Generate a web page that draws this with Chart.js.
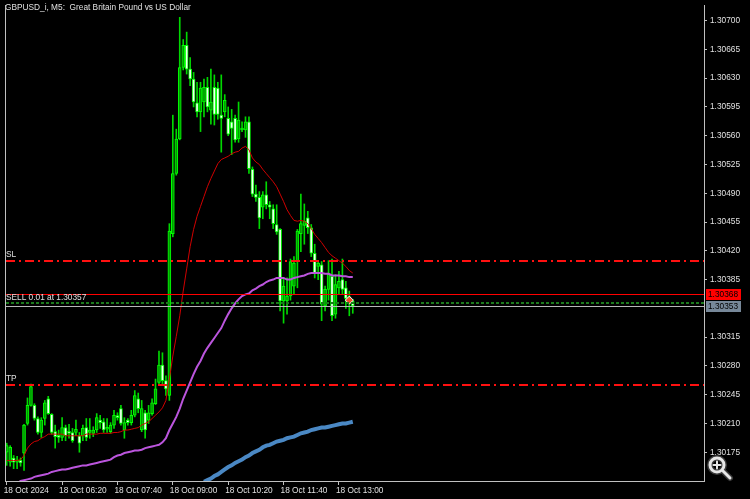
<!DOCTYPE html>
<html><head><meta charset="utf-8">
<script src="https://cdn.jsdelivr.net/npm/chart.js@4.4.1/dist/chart.umd.min.js"></script>
<style>html,body{margin:0;padding:0;background:#000;overflow:hidden}#wrap{width:750px;height:499px;position:relative}</style>
</head><body><div id="wrap"><canvas id="c"></canvas></div>
<script>
// ---- data (GBPUSD_i, M5, 18 Oct 2024 from 05:00) ----
const open = [
1.30175,1.30163,1.30168,1.30163,1.30165,1.30174,1.30210,1.30232,1.30232,1.30216,
1.30199,1.30216,1.30240,1.30221,1.30200,1.30195,1.30193,1.30205,1.30200,1.30199,
1.30199,1.30195,1.30195,1.30205,1.30199,1.30198,1.30202,1.30214,1.30212,1.30203,
1.30200,1.30208,1.30218,1.30228,1.30202,1.30214,1.30211,1.30220,1.30240,1.30202,
1.30223,1.30214,1.30222,1.30234,1.30260,1.30281,1.30262,1.30244,1.30441,1.30514,
1.30556,1.30643,1.30670,1.30641,1.30629,1.30600,1.30589,1.30601,1.30619,1.30591,
1.30619,1.30618,1.30585,1.30589,1.30581,1.30577,1.30581,1.30556,1.30567,1.30567,
1.30577,1.30519,1.30489,1.30485,1.30473,1.30488,1.30476,1.30471,1.30452,1.30446,
1.30359,1.30359,1.30365,1.30377,1.30407,1.30441,1.30451,1.30460,1.30448,1.30417,
1.30401,1.30403,1.30353,1.30373,1.30389,1.30343,1.30375,1.30385,1.30375,1.30364,
1.30359];
const high = [
1.30186,1.30183,1.30171,1.30170,1.30168,1.30209,1.30241,1.30258,1.30234,1.30218,
1.30217,1.30238,1.30243,1.30222,1.30208,1.30202,1.30217,1.30208,1.30209,1.30204,
1.30214,1.30199,1.30208,1.30216,1.30216,1.30206,1.30222,1.30220,1.30216,1.30216,
1.30211,1.30226,1.30223,1.30232,1.30217,1.30216,1.30226,1.30250,1.30247,1.30238,
1.30226,1.30232,1.30240,1.30264,1.30298,1.30296,1.30268,1.30453,1.30585,1.30568,
1.30704,1.30677,1.30686,1.30655,1.30637,1.30625,1.30625,1.30629,1.30631,1.30641,
1.30634,1.30625,1.30634,1.30610,1.30595,1.30592,1.30585,1.30601,1.30577,1.30583,
1.30583,1.30522,1.30500,1.30492,1.30492,1.30504,1.30480,1.30476,1.30476,1.30447,
1.30387,1.30387,1.30410,1.30413,1.30446,1.30489,1.30477,1.30468,1.30452,1.30428,
1.30408,1.30407,1.30377,1.30408,1.30410,1.30391,1.30395,1.30410,1.30383,1.30371,
1.30361];
const low = [
1.30159,1.30158,1.30155,1.30155,1.30158,1.30153,1.30208,1.30231,1.30214,1.30197,
1.30193,1.30208,1.30221,1.30197,1.30180,1.30187,1.30189,1.30189,1.30192,1.30187,
1.30195,1.30175,1.30189,1.30189,1.30192,1.30194,1.30199,1.30204,1.30199,1.30199,
1.30198,1.30204,1.30214,1.30208,1.30192,1.30208,1.30208,1.30218,1.30223,1.30200,
1.30192,1.30210,1.30220,1.30233,1.30256,1.30256,1.30244,1.30238,1.30437,1.30512,
1.30555,1.30640,1.30635,1.30621,1.30595,1.30583,1.30565,1.30583,1.30589,1.30574,
1.30573,1.30580,1.30540,1.30583,1.30560,1.30537,1.30552,1.30552,1.30565,1.30558,
1.30514,1.30486,1.30480,1.30447,1.30459,1.30471,1.30459,1.30447,1.30440,1.30347,
1.30332,1.30343,1.30360,1.30367,1.30375,1.30419,1.30428,1.30441,1.30413,1.30387,
1.30385,1.30335,1.30347,1.30360,1.30335,1.30338,1.30367,1.30367,1.30350,1.30341,
1.30344];
const close = [
1.30183,1.30181,1.30163,1.30165,1.30162,1.30208,1.30232,1.30255,1.30216,1.30199,
1.30214,1.30235,1.30222,1.30199,1.30194,1.30193,1.30205,1.30195,1.30198,1.30189,
1.30203,1.30186,1.30204,1.30193,1.30202,1.30202,1.30217,1.30211,1.30202,1.30204,
1.30208,1.30220,1.30217,1.30210,1.30211,1.30211,1.30220,1.30244,1.30228,1.30228,
1.30202,1.30223,1.30235,1.30252,1.30281,1.30262,1.30252,1.30444,1.30514,1.30556,
1.30643,1.30670,1.30641,1.30629,1.30601,1.30589,1.30618,1.30619,1.30595,1.30601,
1.30586,1.30586,1.30581,1.30603,1.30562,1.30569,1.30555,1.30579,1.30568,1.30577,
1.30520,1.30489,1.30485,1.30460,1.30488,1.30476,1.30473,1.30453,1.30443,1.30359,
1.30377,1.30365,1.30407,1.30405,1.30444,1.30453,1.30456,1.30448,1.30417,1.30393,
1.30405,1.30355,1.30373,1.30393,1.30341,1.30379,1.30383,1.30373,1.30362,1.30359,
1.30353];
const maFast = [
1.30165,1.30165,1.30165,1.30165,1.30166,1.30171,1.30180,1.30185,1.30188,1.30189,
1.30192,1.30194,1.30197,1.30197,1.30197,1.30197,1.30197,1.30195,1.30195,1.30195,
1.30195,1.30195,1.30195,1.30197,1.30197,1.30197,1.30197,1.30198,1.30198,1.30198,
1.30198,1.30199,1.30199,1.30200,1.30202,1.30202,1.30203,1.30204,1.30205,1.30208,
1.30210,1.30212,1.30216,1.30220,1.30224,1.30229,1.30238,1.30264,1.30292,1.30316,
1.30341,1.30371,1.30398,1.30425,1.30446,1.30462,1.30474,1.30486,1.30498,1.30508,
1.30517,1.30526,1.30531,1.30533,1.30535,1.30538,1.30540,1.30541,1.30545,1.30547,
1.30543,1.30533,1.30528,1.30525,1.30519,1.30514,1.30509,1.30504,1.30498,1.30489,
1.30480,1.30470,1.30463,1.30457,1.30456,1.30457,1.30456,1.30453,1.30447,1.30440,
1.30435,1.30430,1.30424,1.30418,1.30414,1.30411,1.30408,1.30405,1.30401,1.30396,
1.30393];
const maMid = [
null,null,null,1.30137,1.30140,1.30141,1.30142,1.30143,1.30145,1.30146,
1.30147,1.30148,1.30149,1.30151,1.30152,1.30153,1.30154,1.30154,1.30155,1.30156,
1.30157,1.30158,1.30159,1.30159,1.30160,1.30161,1.30162,1.30163,1.30164,1.30165,
1.30166,1.30169,1.30171,1.30172,1.30174,1.30175,1.30176,1.30177,1.30177,1.30178,
1.30180,1.30181,1.30182,1.30183,1.30184,1.30187,1.30192,1.30202,1.30210,1.30218,
1.30228,1.30240,1.30250,1.30260,1.30270,1.30279,1.30286,1.30295,1.30302,1.30308,
1.30314,1.30320,1.30326,1.30335,1.30343,1.30350,1.30356,1.30361,1.30365,1.30367,
1.30368,1.30372,1.30374,1.30377,1.30379,1.30382,1.30384,1.30385,1.30387,1.30387,
1.30387,1.30385,1.30385,1.30387,1.30388,1.30389,1.30390,1.30392,1.30393,1.30393,
1.30393,1.30393,1.30392,1.30392,1.30390,1.30390,1.30390,1.30389,1.30389,1.30388,
1.30388];
const maSlow = [
null,null,null,null,null,null,null,null,null,null,
null,null,null,null,null,null,null,null,null,null,
null,null,null,null,null,null,null,null,null,null,
null,null,null,null,null,null,null,null,null,null,
null,null,null,null,null,null,null,null,null,null,
null,null,null,null,null,null,null,1.30139,1.30141,1.30143,
1.30146,1.30148,1.30151,1.30154,1.30157,1.30159,1.30162,1.30164,1.30166,1.30169,
1.30171,1.30174,1.30176,1.30178,1.30181,1.30183,1.30184,1.30186,1.30188,1.30189,
1.30190,1.30192,1.30193,1.30194,1.30196,1.30198,1.30199,1.30200,1.30202,1.30203,
1.30204,1.30205,1.30205,1.30206,1.30207,1.30208,1.30209,1.30210,1.30210,1.30211,
1.30212];
const tickIndex = [0,16,32,48,64,80,96];
const tickLabels = ['18 Oct 2024','18 Oct 06:20','18 Oct 07:40','18 Oct 09:00','18 Oct 10:20','18 Oct 11:40','18 Oct 13:00'];
const priceTicks = [1.30700,1.30665,1.30630,1.30595,1.30560,1.30525,1.30490,1.30455,1.30420,1.30385,1.30315,1.30280,1.30245,1.30210,1.30175];
const slotCount = 202;
const slPrice = 1.30407, tpPrice = 1.30257, openPrice = 1.30357, askPrice = 1.30368, bidPrice = 1.30353;
const tradeMarkIndex = 99, tradeMarkPrice = 1.30360;
const titleText = 'GBPUSD_i, M5:  Great Britain Pound vs US Dollar';

// ---- chart ----
const FONT = '"Liberation Sans", Arial, sans-serif';
const FSIZE = 8.3;
const slots = Array.from({length: slotCount}, (_, i) => String(i));
const wickData = low.map((l, i) => [l, high[i]]);
const bodyData = open.map((o, i) => [o, close[i]]);
const bodyFill = open.map((o, i) => close[i] >= o ? '#009a00' : '#f2fff2');
const markData = slots.map((_, i) => i === tradeMarkIndex ? tradeMarkPrice : null);

const overlay = {
  id: 'overlay',
  afterDatasetsDraw(chart) {
    const {ctx, chartArea: a, scales: {y}} = chart;
    ctx.save();
    const hline = (p, color, dash, w) => {
      const py = Math.round(y.getPixelForValue(p)) + (w % 2 ? 0.5 : 0);
      ctx.beginPath(); ctx.setLineDash(dash); ctx.lineWidth = w; ctx.strokeStyle = color;
      ctx.moveTo(a.left + 1, py); ctx.lineTo(a.right, py); ctx.stroke();
      return py;
    };
    const ySL = hline(slPrice, '#ff1010', [9,4,2,4], 2);
    const yTP = hline(tpPrice, '#ff1010', [9,4,2,4], 2);
    const yOp = hline(openPrice, '#1c7a1c', [3,2], 2);
    const yAsk = hline(askPrice, '#ff0000', [], 1);
    const yBid = hline(bidPrice, '#b8b8b8', [], 1);
    ctx.setLineDash([]);
    ctx.font = FSIZE + 'px ' + FONT; ctx.fillStyle = '#e0e0e0'; ctx.textBaseline = 'bottom'; ctx.textAlign = 'left';
    ctx.fillText('SL', 6, ySL - 2);
    ctx.fillText('TP', 6, yTP - 2);
    ctx.fillText('SELL 0.01 at ' + openPrice.toFixed(5), 6, yOp - 1);
    ctx.textBaseline = 'middle';
    ctx.fillText(titleText, 5, 8);
    // price boxes
    const box = (py, p, bg, fg) => {
      ctx.fillStyle = bg; ctx.fillRect(706, py - 5.5, 35, 11);
      ctx.fillStyle = fg; ctx.fillText(p.toFixed(5), 708, py + 0.5);
    };
    box(yAsk, askPrice, '#ff0000', '#000000');
    box(yBid, bidPrice, '#778899', '#000000');
    // frame left
    ctx.strokeStyle = '#c0c0c0'; ctx.lineWidth = 1;
    ctx.beginPath(); ctx.moveTo(a.left + 0.5, a.top); ctx.lineTo(a.left + 0.5, a.bottom); ctx.stroke();
    // magnifier icon
    ctx.lineCap = 'round';
    ctx.strokeStyle = '#3a3a3a'; ctx.lineWidth = 6;
    ctx.beginPath(); ctx.arc(717, 465, 7, 0, Math.PI * 2); ctx.stroke();
    ctx.beginPath(); ctx.moveTo(723, 471); ctx.lineTo(730, 478); ctx.stroke();
    ctx.strokeStyle = '#e6e6e6'; ctx.lineWidth = 3;
    ctx.beginPath(); ctx.arc(717, 465, 7, 0, Math.PI * 2); ctx.stroke();
    ctx.beginPath(); ctx.moveTo(723, 471); ctx.lineTo(730, 478); ctx.stroke();
    ctx.lineWidth = 2;
    ctx.beginPath(); ctx.moveTo(713.5, 465); ctx.lineTo(720.5, 465); ctx.moveTo(717, 461.5); ctx.lineTo(717, 468.5); ctx.stroke();
    ctx.restore();
  }
};

new Chart(document.getElementById('c'), {
  data: {
    labels: slots,
    datasets: [
      {type: 'line', data: markData, showLine: false, pointStyle: 'rectRot', pointRadius: 4,
       pointBackgroundColor: '#f0502a', pointBorderColor: '#ffffff', pointBorderWidth: 1, order: 0},
      {type: 'line', data: maFast, borderColor: '#d00000', borderWidth: 1, pointRadius: 0, tension: 0, order: 1},
      {type: 'line', data: maMid, borderColor: '#bb55dd', borderWidth: 2, pointRadius: 0, tension: 0, order: 1},
      {type: 'line', data: maSlow, borderColor: '#4a88c4', borderWidth: 4, pointRadius: 0, tension: 0, order: 1},
      {type: 'bar', data: bodyData, backgroundColor: bodyFill, borderColor: '#00ff00', borderWidth: 1,
       borderSkipped: false, barThickness: 3, minBarLength: 2, grouped: false, order: 2},
      {type: 'bar', data: wickData, backgroundColor: '#00d800', barThickness: 1, grouped: false, order: 3}
    ]
  },
  options: {
    responsive: true, maintainAspectRatio: false, animation: false, devicePixelRatio: 1,
    layout: {padding: {left: 3, top: 2, right: 0, bottom: 0}},
    plugins: {legend: {display: false}, tooltip: {enabled: false}},
    scales: {
      x: {
        type: 'category', offset: true,
        afterBuildTicks: s => { s.ticks = tickIndex.map(v => ({value: v})); },
        afterFit: s => { s.height = 18; s.paddingLeft = 0; s.paddingRight = 0; },
        ticks: {autoSkip: false, maxRotation: 0, align: 'start', padding: 1, labelOffset: -3, color: '#e0e0e0',
                font: {family: FONT, size: FSIZE}, callback: v => tickLabels[tickIndex.indexOf(v)]},
        grid: {display: true, drawOnChartArea: false, drawTicks: true, tickLength: 4, color: '#c0c0c0', offset: false},
        border: {display: true, color: '#c0c0c0'}
      },
      y: {
        type: 'linear', position: 'right', min: 1.30140, max: 1.30719,
        afterBuildTicks: s => { s.ticks = priceTicks.map(v => ({value: v})); },
        afterFit: s => { s.width = 46; s.paddingTop = 0; s.paddingBottom = 0; },
        ticks: {color: '#e0e0e0', padding: 3, font: {family: FONT, size: FSIZE}, callback: v => v.toFixed(5)},
        grid: {display: true, drawOnChartArea: false, drawTicks: true, tickLength: 3, color: '#c0c0c0'},
        border: {display: true, color: '#c0c0c0'}
      }
    }
  },
  plugins: [overlay]
});
</script></body></html>
